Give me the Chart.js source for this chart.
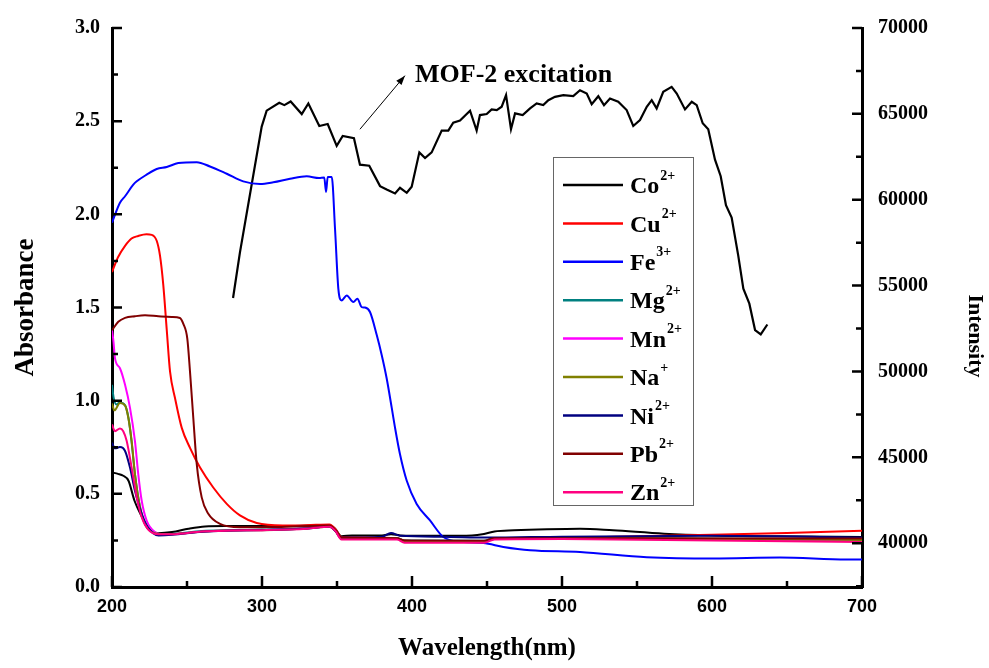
<!DOCTYPE html>
<html>
<head>
<meta charset="utf-8">
<script src="https://cdn.jsdelivr.net/npm/chart.js@4.4.1/dist/chart.umd.min.js"></script>
<style>
  html, body { margin: 0; padding: 0; background: #fff; }
  #wrap { width: 989px; height: 668px; }
</style>
</head>
<body>
<div id="wrap"><canvas id="chart" width="989" height="668"></canvas></div>
<script>
// absorbance spectra (left axis)
var coWl  = [200, 204, 207.5, 211, 215, 220, 224, 231, 240, 251, 262, 275, 300, 320, 345, 349, 353, 360, 380, 386, 392, 400, 420, 440, 448, 455, 468, 490, 512, 534, 568, 600, 645, 700];
var coAbs = [0.615, 0.607, 0.597, 0.57, 0.463, 0.375, 0.313, 0.289, 0.295, 0.313, 0.325, 0.327, 0.327, 0.328, 0.333, 0.31, 0.272, 0.277, 0.277, 0.283, 0.277, 0.275, 0.275, 0.277, 0.285, 0.298, 0.304, 0.31, 0.313, 0.304, 0.286, 0.277, 0.272, 0.268];

var cuWl  = [200, 204, 208.7, 213, 217.5, 223, 226.5, 229.8, 232, 234.2, 236.5, 238.7, 242, 246.5, 252, 258.7, 267.5, 276.5, 285.3, 296.5, 314, 330, 345, 349, 353, 370, 390, 395, 420, 448, 455, 500, 550, 600, 650, 700];
var cuAbs = [1.69, 1.77, 1.831, 1.87, 1.884, 1.893, 1.89, 1.858, 1.778, 1.62, 1.38, 1.156, 1.014, 0.854, 0.747, 0.641, 0.534, 0.446, 0.384, 0.343, 0.33, 0.332, 0.336, 0.31, 0.268, 0.265, 0.262, 0.25, 0.245, 0.245, 0.262, 0.265, 0.272, 0.28, 0.29, 0.302];

var feWl  = [200, 205.3, 208.7, 214.2, 216.5, 223.1, 229.8, 236.5, 244.2, 256.5, 265.3, 276.5, 287.5, 298.7, 307.5, 318.7, 329.8, 338, 341.5, 342.7, 343.8, 346.5, 348.7, 350.9, 353.1, 356.5, 360.9, 363.6, 366.5, 368.7, 372, 376.5, 379.8, 383.1, 386.5, 388.7, 392, 396.5, 403.1, 412, 420.9, 434.2, 447.5, 460.9, 478.7, 512, 556.5, 600.9, 645.3, 689.8, 700];
var feAbs = [1.955, 2.062, 2.097, 2.159, 2.177, 2.213, 2.243, 2.254, 2.275, 2.28, 2.257, 2.218, 2.177, 2.163, 2.172, 2.191, 2.204, 2.195, 2.198, 2.12, 2.2, 2.2, 1.92, 1.6, 1.538, 1.565, 1.529, 1.547, 1.502, 1.5, 1.476, 1.352, 1.245, 1.12, 0.961, 0.854, 0.712, 0.57, 0.446, 0.357, 0.268, 0.241, 0.236, 0.215, 0.197, 0.188, 0.16, 0.153, 0.158, 0.148, 0.148];

var mgWl  = [200, 201, 203, 205, 208.7, 211, 213, 215.3, 218.7, 222, 226, 231, 240, 260, 280, 300, 330, 345, 349, 353, 390, 395, 448, 455, 550, 700];
var mgAbs = [1.085, 1.02, 0.98, 0.99, 0.975, 0.907, 0.783, 0.606, 0.428, 0.339, 0.3, 0.283, 0.285, 0.3, 0.305, 0.308, 0.315, 0.325, 0.3, 0.262, 0.262, 0.25, 0.248, 0.262, 0.262, 0.255];

var mnWl  = [200, 201, 202, 205.3, 208.7, 212, 215.3, 217.5, 219.8, 223.1, 228.7, 235, 250, 270, 300, 330, 345, 349, 353, 390, 395, 448, 455, 550, 700];
var mnAbs = [1.38, 1.316, 1.227, 1.174, 1.085, 0.961, 0.783, 0.606, 0.463, 0.357, 0.295, 0.282, 0.29, 0.302, 0.305, 0.315, 0.325, 0.3, 0.258, 0.258, 0.243, 0.243, 0.258, 0.258, 0.25];

var naWl  = [200, 201.6, 205.3, 208.7, 210.9, 213.1, 215.3, 218.7, 222, 228, 235, 250, 270, 300, 330, 345, 349, 353, 390, 395, 448, 455, 550, 700];
var naAbs = [0.985, 0.948, 0.987, 0.975, 0.907, 0.783, 0.606, 0.428, 0.339, 0.29, 0.282, 0.29, 0.302, 0.305, 0.314, 0.324, 0.3, 0.26, 0.26, 0.247, 0.246, 0.26, 0.26, 0.252];

var niWl  = [200, 202, 205.3, 208.7, 212, 215.3, 219.8, 224, 231, 240, 260, 280, 300, 330, 345, 349, 353, 380, 386, 392, 420, 450, 500, 600, 700];
var niAbs = [0.774, 0.744, 0.751, 0.73, 0.641, 0.517, 0.393, 0.32, 0.277, 0.28, 0.297, 0.303, 0.306, 0.314, 0.325, 0.3, 0.265, 0.27, 0.29, 0.275, 0.27, 0.265, 0.27, 0.275, 0.265];

var pbWl  = [200, 204.2, 208.7, 215.3, 222, 230.9, 239.8, 245.3, 247.5, 250.2, 252, 254.2, 256.5, 259.8, 264.2, 272, 285.3, 310, 345, 349, 353, 390, 395, 448, 455, 550, 700];
var pbAbs = [1.378, 1.423, 1.444, 1.453, 1.458, 1.453, 1.449, 1.444, 1.413, 1.333, 1.156, 0.907, 0.659, 0.481, 0.393, 0.339, 0.321, 0.322, 0.33, 0.305, 0.265, 0.262, 0.25, 0.248, 0.262, 0.262, 0.26];

var znWl  = [200, 202, 205.3, 207.5, 209.8, 213.1, 216.5, 219.8, 224, 231, 240, 260, 280, 300, 330, 345, 349, 353, 390, 395, 448, 455, 500, 600, 700];
var znAbs = [0.872, 0.836, 0.851, 0.836, 0.783, 0.641, 0.481, 0.375, 0.31, 0.283, 0.283, 0.298, 0.303, 0.305, 0.313, 0.323, 0.3, 0.255, 0.255, 0.238, 0.238, 0.255, 0.257, 0.25, 0.242];

// MOF-2 excitation spectrum (right axis)
var exWl = [280.7, 285.3, 299.8, 303.1, 311.5, 314.9, 319.1, 326.5, 330.9, 338.2, 343.8, 349.8, 353.8, 361.3, 365.3, 371.5, 378.7, 383.1, 388.7, 392, 396.5, 399.8, 404.9, 408.7, 413.1, 419.8, 424.2, 427.5, 432, 438.7, 443.1, 445.3, 449.8, 453.1, 456.5, 459.8, 462.7, 466, 468.7, 473.8, 478.7, 483.1, 487.5, 490.9, 495.3, 500.9, 507.5, 512, 516.5, 519.8, 524.2, 528, 532, 537.5, 543.1, 547.5, 552, 556.5, 559.8, 563.1, 567.5, 573.1, 576.5, 582, 586.5, 589.8, 593.8, 597.5, 602, 605.8, 609.3, 613.1, 617.5, 620.9, 624.9, 628.7, 632.5, 636.9];
var exInt = [54278, 56937, 64261, 65185, 65648, 65509, 65723, 64989, 65607, 64295, 64411, 63139, 63717, 63584, 62041, 61983, 60792, 60596, 60364, 60694, 60405, 60752, 62758, 62428, 62758, 64029, 64029, 64492, 64607, 65185, 64029, 64931, 64989, 65260, 65220, 65416, 66087, 64104, 65029, 64931, 65318, 65607, 65509, 65798, 65994, 66087, 66029, 66376, 66185, 65567, 66029, 65509, 65896, 65705, 65220, 64295, 64642, 65416, 65798, 65318, 66283, 66572, 66185, 65260, 65705, 65509, 64451, 64104, 62330, 61370, 59677, 58960, 56747, 54817, 53949, 52412, 52157, 52735];

// tick labels
var wlTicks = [200, 300, 400, 500, 600, 700];
var absTicks = [0, 0.5, 1.0, 1.5, 2.0, 2.5, 3.0];
var intTicks = [40000, 45000, 50000, 55000, 60000, 65000, 70000];

var ionNames = ['Co', 'Cu', 'Fe', 'Mg', 'Mn', 'Na', 'Ni', 'Pb', 'Zn'];
var ionCharges = ['2+', '2+', '3+', '2+', '2+', '+', '2+', '2+', '2+'];
var ionColors = ['#000000', '#ff0000', '#0000ff', '#008080', '#ff00ff', '#808000', '#000080', '#800000', '#ff0080'];
var ionWl = [coWl, cuWl, feWl, mgWl, mnWl, naWl, niWl, pbWl, znWl];
var ionAbs = [coAbs, cuAbs, feAbs, mgAbs, mnAbs, naAbs, niAbs, pbAbs, znAbs];

function pts(xs, ys) {
    return xs.map(function (x, i) { return { x: x, y: ys[i] }; });
}

function fixTicks(list) {
    return function (s) {
        s.ticks = list.map(function (v) { return { value: v }; });
    };
}

var dataSets = [];
for (var i = 0; i < ionNames.length; i++) {
    dataSets.push({
        label: ionNames[i] + ionCharges[i],
        data: pts(ionWl[i], ionAbs[i]),
        borderColor: ionColors[i],
        borderWidth: 2,
        pointRadius: 0,
        cubicInterpolationMode: 'monotone',
        yAxisID: 'y',
        order: ionNames.length - i
    });
}
dataSets.push({
    label: 'MOF-2 excitation',
    data: pts(exWl, exInt),
    borderColor: '#000000',
    borderWidth: 2.2,
    pointRadius: 0,
    tension: 0,
    yAxisID: 'y2',
    order: 20
});

var serifFam = '"Liberation Serif", "Times New Roman", serif';
var serifBold = { family: serifFam, weight: 'bold', size: 20 };
var sansBold = { family: '"Liberation Sans", Arial, sans-serif', weight: 'bold', size: 18 };

// inward major/minor tick marks, legend box, annotation, right axis title
var decor = {
    id: 'decor',
    afterDraw: function (chart) {
        var ctx = chart.ctx;
        var a = chart.chartArea;
        var xs = chart.scales.x, ys = chart.scales.y, y2 = chart.scales.y2;
        ctx.save();
        ctx.strokeStyle = '#000';
        ctx.lineWidth = 2.5;
        ctx.beginPath();
        var v, p, len;
        for (v = 0; v <= 3.0001; v += 0.25) {
            p = ys.getPixelForValue(v);
            len = Math.abs(v / 0.5 - Math.round(v / 0.5)) < 1e-6 ? 10 : 6;
            ctx.moveTo(a.left, p); ctx.lineTo(a.left + len, p);
        }
        for (v = 200; v <= 700; v += 50) {
            p = xs.getPixelForValue(v);
            len = v % 100 === 0 ? 11 : 6;
            ctx.moveTo(p, a.bottom); ctx.lineTo(p, a.bottom - len);
        }
        for (v = 37500; v <= 70000; v += 2500) {
            p = y2.getPixelForValue(v);
            len = v % 5000 === 0 ? 10 : 6;
            ctx.moveTo(a.right, p); ctx.lineTo(a.right - len, p);
        }
        ctx.stroke();

        // legend
        ctx.lineWidth = 1;
        ctx.strokeStyle = '#666';
        ctx.strokeRect(553.5, 157.5, 140, 348);
        for (var i = 0; i < ionNames.length; i++) {
            var ry = 185 + i * 38.4;
            ctx.strokeStyle = ionColors[i];
            ctx.lineWidth = 2.5;
            ctx.beginPath();
            ctx.moveTo(563, ry); ctx.lineTo(623, ry);
            ctx.stroke();
            ctx.fillStyle = '#000';
            ctx.textBaseline = 'middle';
            ctx.textAlign = 'left';
            ctx.font = 'bold 24px ' + serifFam;
            ctx.fillText(ionNames[i], 630, ry + 2);
            var w = ctx.measureText(ionNames[i]).width;
            ctx.font = 'bold 14px ' + serifFam;
            ctx.fillText(ionCharges[i], 630 + w + 1, ry - 9);
        }

        // annotation arrow
        var x1 = xs.getPixelForValue(365.3), yA = y2.getPixelForValue(64104);
        var x2 = xs.getPixelForValue(395.3), yB = y2.getPixelForValue(67226);
        ctx.strokeStyle = '#000';
        ctx.fillStyle = '#000';
        ctx.lineWidth = 1;
        ctx.beginPath();
        ctx.moveTo(x1, yA); ctx.lineTo(x2, yB);
        ctx.stroke();
        var ang = Math.atan2(yB - yA, x2 - x1);
        ctx.beginPath();
        ctx.moveTo(x2, yB);
        ctx.lineTo(x2 - 10 * Math.cos(ang - 0.35), yB - 10 * Math.sin(ang - 0.35));
        ctx.lineTo(x2 - 10 * Math.cos(ang + 0.35), yB - 10 * Math.sin(ang + 0.35));
        ctx.closePath();
        ctx.fill();
        ctx.font = 'bold 26px ' + serifFam;
        ctx.textBaseline = 'middle';
        ctx.fillText('MOF-2 excitation', xs.getPixelForValue(402), y2.getPixelForValue(67226));

        // right axis title, sits a bit below the axis middle in the original
        ctx.translate(975, 336);
        ctx.rotate(Math.PI / 2);
        ctx.textAlign = 'center';
        ctx.font = 'bold 22px ' + serifFam;
        ctx.fillText('Intensity', 0, 0);
        ctx.restore();
    }
};

var ctxL = document.getElementById('chart').getContext('2d');
var myChart = new Chart(ctxL, {
    type: 'line',
    data: { datasets: dataSets },
    plugins: [decor],
    options: {
        responsive: false,
        animation: false,
        layout: { padding: { top: 24, left: 0, right: 0, bottom: 0 } },
        plugins: { legend: { display: false }, tooltip: { enabled: false } },
        scales: {
            x: {
                type: 'linear', min: 200, max: 700,
                afterBuildTicks: fixTicks(wlTicks),
                ticks: { color: '#000', font: sansBold, padding: 9, maxRotation: 0, autoSkip: false },
                grid: { display: false, drawTicks: false },
                border: { display: true, color: '#000', width: 3 },
                title: { display: true, text: 'Wavelength(nm)', color: '#000', font: { family: serifFam, weight: 'bold', size: 25 }, padding: { top: 0, bottom: 4 } },
                afterFit: function (s) { s.height = 81; }
            },
            y: {
                position: 'left', min: 0, max: 3,
                afterBuildTicks: fixTicks(absTicks),
                ticks: { color: '#000', font: serifBold, padding: 12, autoSkip: false, callback: function (v) { return v.toFixed(1); } },
                grid: { display: false, drawTicks: false },
                border: { display: true, color: '#000', width: 3 },
                title: { display: true, text: 'Absorbance', color: '#000', font: { family: serifFam, weight: 'bold', size: 27 }, padding: { top: 10, bottom: 0 } },
                afterFit: function (s) { s.width = 112; }
            },
            y2: {
                position: 'right', min: 37450, max: 70000,
                afterBuildTicks: fixTicks(intTicks),
                ticks: { color: '#000', font: serifBold, padding: 16, autoSkip: false, callback: function (v) { return String(v); } },
                grid: { display: false, drawTicks: false },
                border: { display: true, color: '#000', width: 3 },
                title: { display: false },
                afterFit: function (s) { s.width = 127; }
            }
        }
    }
});
</script>
</body>
</html>
